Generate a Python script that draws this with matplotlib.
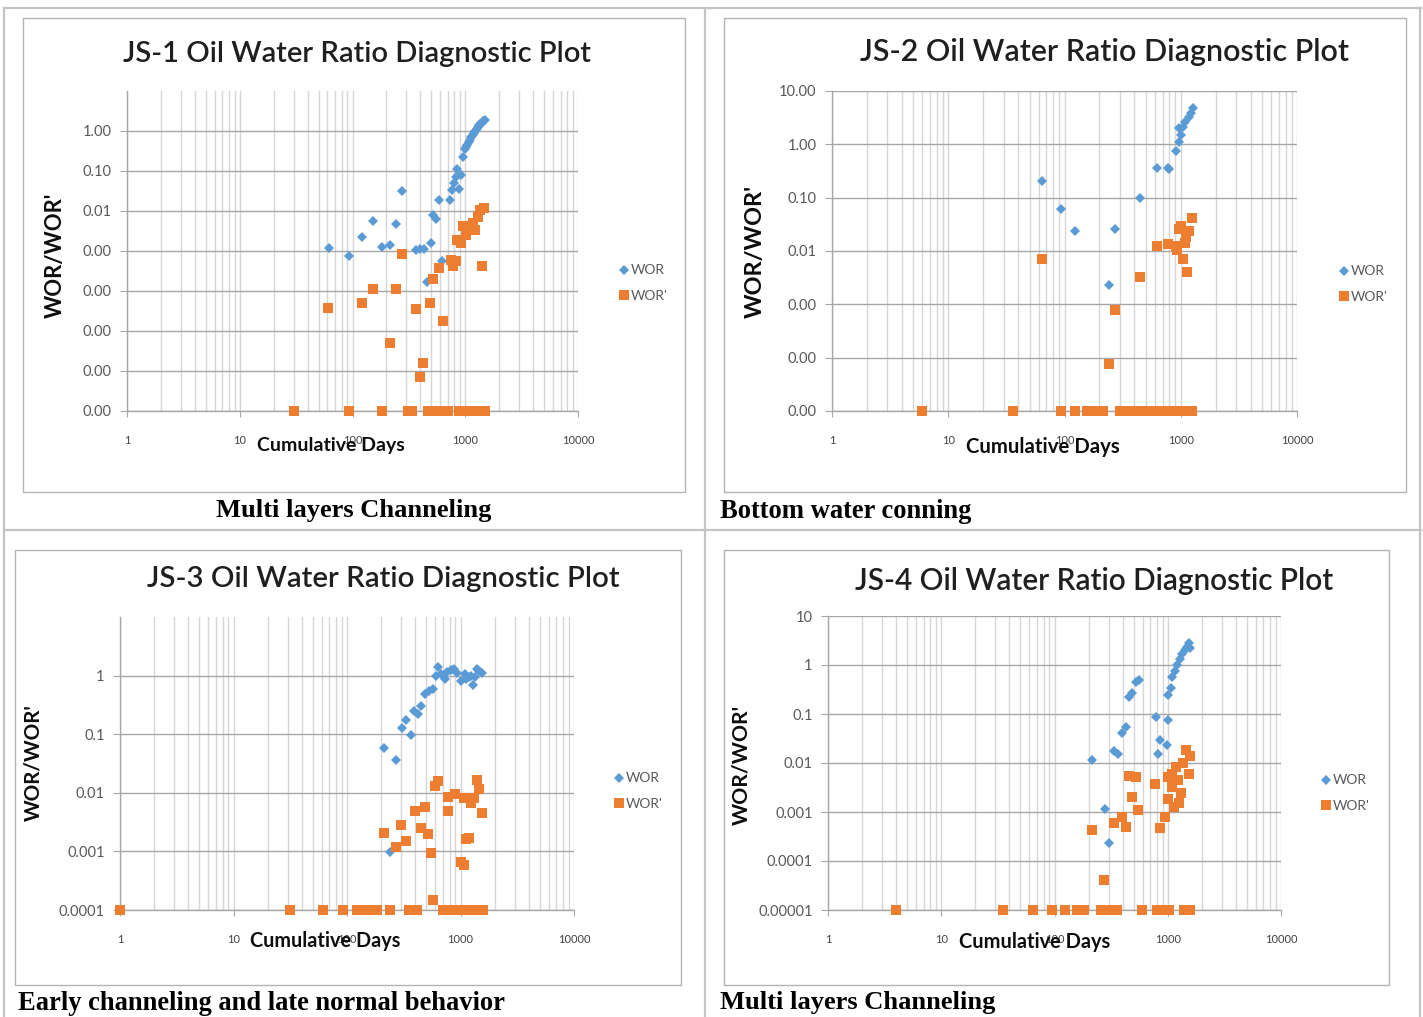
import matplotlib
matplotlib.use("Agg")
import matplotlib.pyplot as plt
from matplotlib.lines import Line2D
from matplotlib.patches import Rectangle
from matplotlib.ticker import LogLocator, NullFormatter, NullLocator

# ---------------- data ----------------
js1_wor_x = [62, 93, 122, 153, 183, 215, 244, 275, 366, 398, 430, 455, 493, 514, 550, 581, 622,
             732, 760, 794, 828, 849, 885, 908, 946, 986, 1010, 1042, 1070, 1101, 1130, 1161, 1195,
             1225, 1260, 1294, 1330, 1365, 1405, 1445, 1503]
js1_wor_y = [0.0012, 0.00076, 0.00224, 0.0056, 0.00126, 0.00144, 0.0048, 0.031, 0.00106, 0.0011,
             0.0011, 0.000168, 0.0016, 0.0078, 0.0062, 0.019, 0.00057, 0.019, 0.0335, 0.051, 0.069,
             0.114, 0.035, 0.078, 0.22, 0.35, 0.40, 0.45, 0.52, 0.6, 0.70, 0.78, 0.88, 0.98, 1.1,
             1.24, 1.38, 1.5, 1.62, 1.75, 1.88]
js1_worp_x = [61, 122, 153, 244, 275, 215, 366, 483, 514, 581, 640, 424, 398, 753, 780, 828, 849,
              908, 962, 1016, 1101, 1161, 1225, 1294, 1365, 1480, 1403,
              30.5, 93, 183, 311, 337, 464, 500, 540, 580, 625, 697, 885, 950, 1020, 1100, 1180,
              1260, 1350, 1430, 1493]
js1_worp_y = [3.8e-5, 5.1e-5, 1.1e-4, 1.1e-4, 8.3e-4, 5.1e-6, 3.5e-5, 4.9e-5, 1.96e-4, 3.8e-4,
              1.75e-5, 1.56e-6, 6.9e-7, 6e-4, 4.1e-4, 5.7e-4, 1.9e-3, 1.56e-3, 4.2e-3, 2.5e-3,
              4e-3, 5.1e-3, 3.4e-3, 7.2e-3, 0.0106, 0.0119, 4.2e-4,
              1e-7, 1e-7, 1e-7, 1e-7, 1e-7, 1e-7, 1e-7, 1e-7, 1e-7, 1e-7, 1e-7, 1e-7, 1e-7, 1e-7,
              1e-7, 1e-7, 1e-7, 1e-7, 1e-7, 1e-7]

js2_wor_x = [64, 94, 122, 272, 243, 449, 624, 781, 790, 915, 957, 1010, 971, 1050, 1093, 1167,
             1230, 1280]
js2_wor_y = [0.206, 0.061, 0.0242, 0.0257, 0.00233, 0.099, 0.36, 0.36, 0.35, 0.76, 1.12, 1.5, 2.0,
             2.1, 2.66, 3.3, 3.93, 4.86]
js2_worp_x = [64, 243, 272, 449, 624, 770, 957, 930, 1050, 1125, 1093, 1167, 1115, 1262, 915, 1000,
              6, 36, 93.5, 122.5, 155, 170, 185, 200, 214, 302, 330, 360, 400, 440, 490, 540, 600,
              660, 730, 800, 880, 970, 1060, 1160, 1260]
js2_worp_y = [0.0072, 7.6e-5, 7.8e-4, 0.0032, 0.0122, 0.0137, 0.0257, 0.0105, 0.0071, 0.004,
              0.0141, 0.0242, 0.0186, 0.041, 0.0125, 0.03,
              1e-5, 1e-5, 1e-5, 1e-5, 1e-5, 1e-5, 1e-5, 1e-5, 1e-5, 1e-5, 1e-5, 1e-5, 1e-5, 1e-5,
              1e-5, 1e-5, 1e-5, 1e-5, 1e-5, 1e-5, 1e-5, 1e-5, 1e-5, 1e-5, 1e-5]

js3_wor_x = [210, 272, 303, 333, 363, 389, 425, 451, 490, 524, 567, 608, 634, 668, 725, 765, 830,
             877, 933, 1002, 1086, 1120, 1196, 1250, 1297, 1350, 1406, 1464, 1547, 240]
js3_wor_y = [0.058, 0.036, 0.126, 0.172, 0.096, 0.245, 0.224, 0.3, 0.48, 0.54, 0.58, 0.97, 1.42,
             1.07, 0.88, 1.17, 1.25, 1.3, 1.09, 0.8, 1.07, 0.88, 0.94, 1.0, 0.70, 0.94, 1.3, 1.22,
             1.09, 0.00098]
js3_worp_x = [210, 272, 300, 333, 395, 482, 451, 515, 548, 595, 634, 777, 888, 777, 1076, 1241,
              1314, 1406, 1464, 1562, 1120, 1196, 1018, 1064, 567,
              1, 31.5, 62, 93, 121.5, 150, 165, 184, 240, 354, 417, 695, 760, 830, 900, 980, 1060,
              1150, 1250, 1350, 1450, 1567]
js3_worp_y = [0.0021, 0.00117, 0.0028, 0.0015, 0.0049, 0.0058, 0.0025, 0.00197, 0.00094, 0.0132,
              0.0159, 0.0086, 0.0094, 0.0048, 0.0081, 0.0068, 0.0081, 0.0165, 0.0116, 0.0046,
              0.0016, 0.0017, 0.00065, 0.00058, 0.00015,
              1e-4, 1e-4, 1e-4, 1e-4, 1e-4, 1e-4, 1e-4, 1e-4, 1e-4, 1e-4, 1e-4, 1e-4, 1e-4, 1e-4,
              1e-4, 1e-4, 1e-4, 1e-4, 1e-4, 1e-4, 1e-4, 1e-4]

js4_wor_x = [215, 277, 304, 337, 367, 396, 430, 454, 483, 526, 556, 785, 818, 858, 977, 1000, 1013,
             1064, 1092, 1157, 1217, 1277, 1346, 1418, 1490, 1536, 1588]
js4_wor_y = [0.0115, 0.00117, 0.000236, 0.0179, 0.0153, 0.040, 0.055, 0.226, 0.27, 0.46, 0.49,
             0.0856, 0.0153, 0.0295, 0.023, 0.075, 0.244, 0.334, 0.58, 0.76, 1.0, 1.3, 1.65, 2.02,
             2.36, 2.77, 2.19]
js4_worp_x = [215, 275, 337, 391, 430, 454, 520, 483, 548, 771, 846, 954, 1000, 1087, 1013, 1087,
              1138, 1190, 1233, 1298, 1246, 1360, 1452, 1576, 1536,
              4, 35, 65, 95, 125, 158, 170, 182, 255, 280, 305, 330, 358, 594, 800, 880, 960, 1020,
              1400, 1480, 1560]
js4_worp_y = [0.00042, 4e-5, 0.00059, 0.0008, 0.0005, 0.0054, 0.0051, 0.002, 0.0011, 0.0038,
              0.00048, 0.00078, 0.0018, 0.006, 0.0052, 0.0033, 0.00125, 0.0084, 0.0045, 0.0024,
              0.00155, 0.0099, 0.0184, 0.0139, 0.006,
              1e-5, 1e-5, 1e-5, 1e-5, 1e-5, 1e-5, 1e-5, 1e-5, 1e-5, 1e-5, 1e-5, 1e-5, 1e-5, 1e-5,
              1e-5, 1e-5, 1e-5, 1e-5, 1e-5, 1e-5, 1e-5]

titles = ["JS-1 Oil Water Ratio Diagnostic Plot", "JS-2 Oil Water Ratio Diagnostic Plot",
          "JS-3 Oil Water Ratio Diagnostic Plot", "JS-4 Oil Water Ratio Diagnostic Plot"]
captions = ["Multi layers Channeling", "Bottom water conning",
            "Early channeling and late normal behavior", "Multi layers Channeling"]
x_ticks = [1, 10, 100, 1000, 10000]
x_ticklabels = ["1", "10", "100", "1000", "10000"]
js1_yticks = [1e-7, 1e-6, 1e-5, 1e-4, 1e-3, 1e-2, 1e-1, 1]
js1_yticklabels = ["0.00", "0.00", "0.00", "0.00", "0.00", "0.01", "0.10", "1.00"]
js2_yticks = [1e-5, 1e-4, 1e-3, 1e-2, 1e-1, 1, 10]
js2_yticklabels = ["0.00", "0.00", "0.00", "0.01", "0.10", "1.00", "10.00"]
js3_yticks = [1e-4, 1e-3, 1e-2, 1e-1, 1]
js3_yticklabels = ["0.0001", "0.001", "0.01", "0.1", "1"]
js4_yticks = [1e-5, 1e-4, 1e-3, 1e-2, 1e-1, 1, 10]
js4_yticklabels = ["0.00001", "0.0001", "0.001", "0.01", "0.1", "1", "10"]

# ---------------- layout ----------------
W, H = 1423, 1017
BLUE = "#5B9BD5"
ORANGE = "#ED7D31"
SANS = ["Lato", "DejaVu Sans"]
SERIF = ["Liberation Serif", "DejaVu Serif"]

fig = plt.figure(figsize=(W / 100, H / 100), dpi=100)
fig.patch.set_facecolor("white")
renderer = fig.canvas.get_renderer()


def fx(px):
    return px / W


def fy(py):
    return 1 - py / H


def fit(t, target, vertical=False):
    bb = t.get_window_extent(renderer)
    size = bb.height if vertical else bb.width
    t.set_fontsize(t.get_fontsize() * target / size)


# table lines
for y in (8, 530):
    fig.add_artist(Line2D([fx(4), fx(1421)], [fy(y), fy(y)], color="#c4c4c4", lw=1.6))
for x in (4, 705, 1420):
    fig.add_artist(Line2D([fx(x), fx(x)], [fy(8), fy(1017)], color="#c4c4c4", lw=1.6))

panels = [
    dict(box=(23, 18, 685, 492), ax=(127, 91, 578, 411), ylim=(1e-7, 10),
         yt=js1_yticks, yl=js1_yticklabels, wx=js1_wor_x, wy=js1_wor_y, px=js1_worp_x, py=js1_worp_y,
         title=titles[0], tpos=(357, 54), tw=468, xl=(331, 445), xlw=148, yl_pos=(55, 255), ylw=126,
         leg=(618, 283), cap=captions[0], cpos=(354, 511), cw=276, cha="center"),
    dict(box=(724, 18, 1406, 492), ax=(832, 91, 1297, 411), ylim=(1e-5, 10),
         yt=js2_yticks, yl=js2_yticklabels, wx=js2_wor_x, wy=js2_wor_y, px=js2_worp_x, py=js2_worp_y,
         title=titles[1], tpos=(1104, 52), tw=488, xl=(1043, 447), xlw=155, yl_pos=(755, 251), ylw=133,
         leg=(1338, 284), cap=captions[1], cpos=(720, 511), cw=252, cha="left"),
    dict(box=(15, 550, 681, 985), ax=(120, 617, 574, 910), ylim=(1e-4, 10),
         yt=js3_yticks, yl=js3_yticklabels, wx=js3_wor_x, wy=js3_wor_y, px=js3_worp_x, py=js3_worp_y,
         title=titles[2], tpos=(383, 579), tw=473, xl=(325, 941), xlw=151, yl_pos=(33, 763), ylw=117,
         leg=(613, 791), cap=captions[2], cpos=(18, 1003), cw=489, cha="left"),
    dict(box=(724, 550, 1389, 985), ax=(828, 616, 1281, 910), ylim=(1e-5, 10),
         yt=js4_yticks, yl=js4_yticklabels, wx=js4_wor_x, wy=js4_wor_y, px=js4_worp_x, py=js4_worp_y,
         title=titles[3], tpos=(1094, 581), tw=478, xl=(1035, 942), xlw=152, yl_pos=(741, 765), ylw=120,
         leg=(1320, 793), cap=captions[3], cpos=(720, 1003), cw=276, cha="left"),
]

for p in panels:
    x0, y0, x1, y1 = p["box"]
    fig.add_artist(Rectangle((fx(x0), fy(y1)), fx(x1) - fx(x0), fy(y0) - fy(y1),
                             transform=fig.transFigure, fill=False, edgecolor="#b4b4b4", lw=1.0))
    l, t, r, b = p["ax"]
    ax = fig.add_axes([fx(l), fy(b), fx(r) - fx(l), fy(t) - fy(b)])
    ax.set_xscale("log")
    ax.set_yscale("log")
    ax.set_xlim(1, 1e4)
    ax.set_ylim(*p["ylim"])
    ax.set_xticks(x_ticks)
    ax.set_xticklabels(x_ticklabels)
    ax.xaxis.set_minor_locator(LogLocator(base=10, subs=range(2, 10)))
    ax.xaxis.set_minor_formatter(NullFormatter())
    ax.set_yticks(p["yt"])
    ax.set_yticklabels(p["yl"])
    ax.yaxis.set_minor_locator(NullLocator())
    ax.set_axisbelow(True)
    ax.grid(True, which="major", axis="y", color="#a6a6a6", lw=1.0)
    ax.grid(True, which="both", axis="x", color="#d6d6d6", lw=1.0)
    for s in ("top", "right"):
        ax.spines[s].set_visible(False)
    for s in ("left", "bottom"):
        ax.spines[s].set_color("#a6a6a6")
        ax.spines[s].set_linewidth(1.0)
    ax.tick_params(axis="x", which="major", length=4, color="#a6a6a6", pad=13,
                   labelsize=8, labelcolor="#404040")
    ax.tick_params(axis="x", which="minor", length=0)
    ax.tick_params(axis="y", which="major", length=5, color="#a6a6a6", pad=6,
                   labelsize=10.5, labelcolor="#595959")
    for lab in ax.get_xticklabels() + ax.get_yticklabels():
        lab.set_family(SANS)
    ax.plot(p["wx"], p["wy"], "D", color=BLUE, ms=5.3, mew=0, clip_on=False, label="WOR", zorder=3)
    ax.plot(p["px"], p["py"], "s", color=ORANGE, ms=7.2, mew=0, clip_on=False, label="WOR'", zorder=4)
    ax.legend(loc="center left", bbox_to_anchor=(fx(p["leg"][0]), fy(p["leg"][1])),
              bbox_transform=fig.transFigure, frameon=False, labelcolor="#595959",
              handlelength=0.8, handletextpad=0.15, labelspacing=0.95, borderpad=0, borderaxespad=0,
              prop={"family": SANS, "size": 10})

    tt = fig.text(fx(p["tpos"][0]), fy(p["tpos"][1]), p["title"], ha="center", va="center",
                  family=SANS, fontweight="semibold", fontsize=20, color="#1f1f1f")
    fit(tt, p["tw"])
    xt = fig.text(fx(p["xl"][0]), fy(p["xl"][1]), "Cumulative Days", ha="center", va="center",
                  family=SANS, fontweight="bold", fontsize=14, color="#0d0d0d")
    fit(xt, p["xlw"])
    yt = fig.text(fx(p["yl_pos"][0]), fy(p["yl_pos"][1]), "WOR/WOR'", ha="center", va="center",
                  rotation=90, family=SANS, fontweight="bold", fontsize=16, color="#0d0d0d")
    fit(yt, p["ylw"], vertical=True)
    ct = fig.text(fx(p["cpos"][0]), fy(p["cpos"][1]), p["cap"], ha=p["cha"], va="center",
                  family=SERIF, fontweight="bold", fontsize=17, color="black")
    fit(ct, p["cw"])

fig.savefig("out.png", dpi=100, facecolor="white")
